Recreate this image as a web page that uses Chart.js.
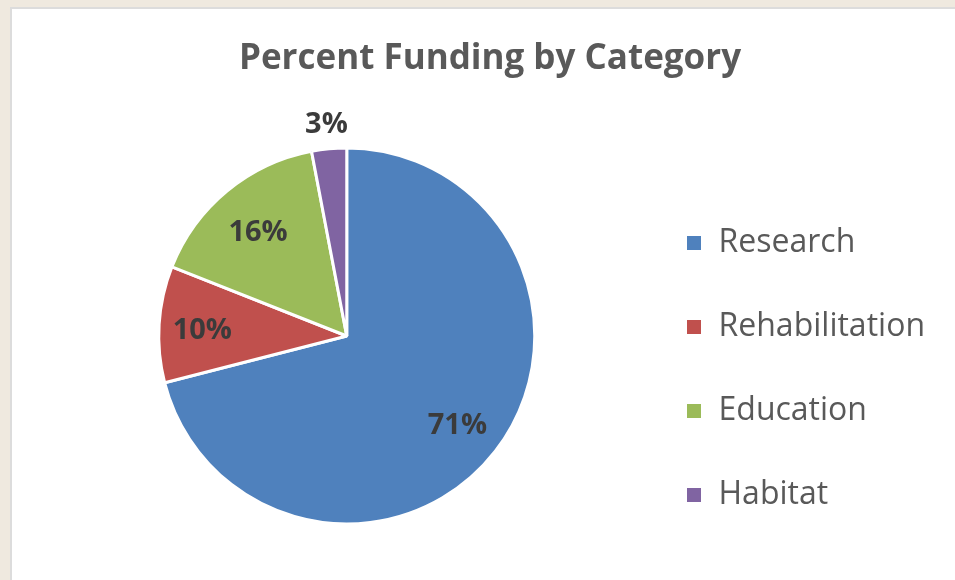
<!DOCTYPE html>
<html>
<head>
<meta charset="utf-8">
<script src="https://cdn.jsdelivr.net/npm/chart.js@4/dist/chart.umd.min.js"></script>
<style>
  html, body { margin: 0; padding: 0; }
  body { width: 955px; height: 580px; background: #efe9df; position: relative; overflow: hidden; }
  #panel { position: absolute; left: 10px; top: 7px; width: 960px; height: 590px; background: #fff; border: 2px solid #dcdcdc; box-sizing: border-box; }
  #wrap { position: absolute; left: 0; top: 0; width: 955px; height: 580px; }
</style>
</head>
<body>
<div id="panel"></div>
<div id="wrap"><canvas id="grafico"></canvas></div>
<script>
// dados
const titulo = "Percent Funding by Category";
const categorias = ["Research", "Rehabilitation", "Education", "Habitat"];
const percentuais = [71, 10, 16, 3];
const cores = ["#4f81bd", "#c0504d", "#9bbb59", "#8064a2"];

// título e rótulos de porcentagem sobre as fatias
const rotulosPlugin = {
  id: "rotulos",
  afterDatasetsDraw(chart, args, opts) {
    const ctx = chart.ctx;
    const meta = chart.getDatasetMeta(0);
    ctx.save();
    ctx.textAlign = "center";
    ctx.textBaseline = "middle";

    ctx.font = "bold 35px 'Open Sans'";
    ctx.fillStyle = "#595959";
    ctx.fillText(titulo, opts.tituloX, opts.tituloY);

    ctx.font = "bold 29px 'Open Sans'";
    ctx.fillStyle = "#3b3b3b";
    meta.data.forEach((arc, i) => {
      const p = arc.getProps(["x", "y", "startAngle", "endAngle", "outerRadius"], true);
      const meio = (p.startAngle + p.endAngle) / 2;
      const r = p.outerRadius * opts.distancia[i];
      ctx.fillText(percentuais[i] + "%", p.x + Math.cos(meio) * r, p.y + Math.sin(meio) * r + opts.ajusteY);
    });
    ctx.restore();
  },
};

const ctx = document.getElementById("grafico").getContext("2d");
new Chart(ctx, {
  type: "pie",
  data: {
    labels: categorias,
    datasets: [
      {
        data: percentuais,
        backgroundColor: cores,
        borderColor: "#ffffff",
        borderWidth: 3,
        radius: 188,
      },
    ],
  },
  plugins: [rotulosPlugin],
  options: {
    responsive: true,
    maintainAspectRatio: false,
    animation: false,
    layout: { padding: { left: 60, right: 20, top: 109, bottom: 17 } },
    plugins: {
      title: { display: false },
      legend: {
        position: "right",
        align: "end",
        labels: {
          color: "#595959",
          font: { family: "Open Sans", size: 32 },
          boxWidth: 17,
          boxHeight: 17,
          padding: 52,
        },
      },
      tooltip: { enabled: false },
      rotulos: { tituloX: 490, tituloY: 59, ajusteY: 4, distancia: [0.745, 0.77, 0.74, 1.15] },
    },
  },
});
</script>
</body>
</html>
